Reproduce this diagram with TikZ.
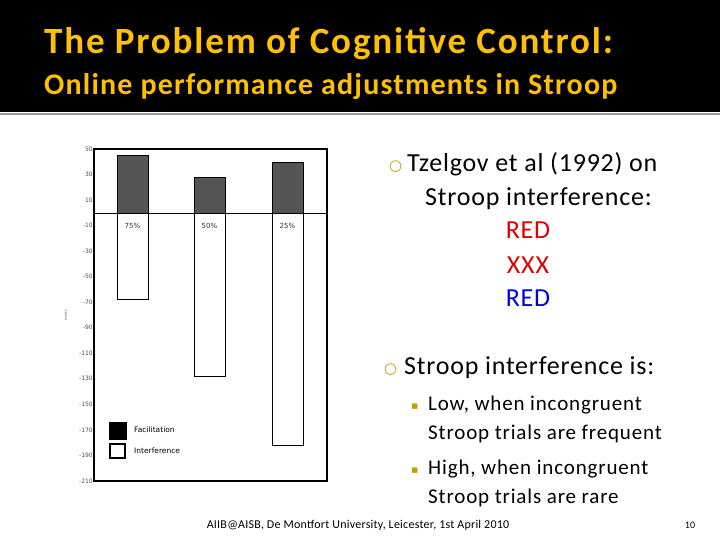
\documentclass[tikz,border=0pt]{standalone}
\usepackage{fontspec}
\setmainfont{Carlito}
\newfontfamily\dv{DejaVu Sans}
\definecolor{gold}{HTML}{FFC000}
\definecolor{barg}{HTML}{555555}
\definecolor{tred}{HTML}{E00000}
\definecolor{tblue}{HTML}{0000E0}
\begin{document}
\begin{tikzpicture}[x=1pt,y=-1pt,
  tick/.style={anchor=east,font=\fontsize{6}{7}\selectfont\dv,text=black!70,inner sep=0},
  body/.style={anchor=base west,inner sep=0,font=\fontsize{26}{30}\selectfont\addfontfeatures{LetterSpace=3}},
  sub/.style={anchor=base west,inner sep=0,font=\fontsize{21}{24}\selectfont\addfontfeatures{LetterSpace=4}}]
\useasboundingbox (0,0) rectangle (720,540);
\fill[white] (0,0) rectangle (720,540);
\fill[black] (0,0) rectangle (720,112);
\draw[black!40,line width=1.5] (0,114) -- (720,114);
\node[anchor=base west,inner sep=0,text=gold,font=\fontsize{37}{44}\selectfont\bfseries\addfontfeatures{LetterSpace=5}] (t1) at (44,54) {The Problem of Cognitive Control:};
\node[anchor=base west,inner sep=0,text=gold,font=\fontsize{30}{36}\selectfont\bfseries\addfontfeatures{LetterSpace=4}] (t2) at (44,95) {Online performance adjustments in Stroop};
% chart
\def\z{212.8}\def\k{1.277}
\draw[line width=1.2] (94,149) rectangle (327,481);
\foreach \v in {50,30,10,-10,-30,-50,-70,-90,-110,-130,-150,-170,-190,-210}
  \node[tick] at (93,{\z-\v*\k}) {\v};
\node[rotate=90,font=\fontsize{4}{5}\selectfont\dv,text=black!60] (ms) at (66,315) {msec};
\foreach \a/\f/\i/\l in {117/45/-68/75\%,194/28/-128/50\%,272/40/-182/25\%}{
  \draw[fill=barg] (\a,{\z-\f*\k}) rectangle (\a+31,\z);
  \draw[fill=white] (\a,\z) rectangle (\a+31,{\z-\i*\k});
  \node[font=\fontsize{7}{8}\selectfont\dv,text=black!80] at (\a+15.5,226) {\l};
}
\draw (94,\z) -- (327,\z);
\draw[fill=black] (109,422) rectangle (126,439);
\draw[line width=1.5,fill=white] (110,444) rectangle (125,458);
\node[anchor=west,font=\fontsize{7.5}{8}\selectfont\dv,inner sep=0] (lf) at (134,430) {Facilitation};
\node[anchor=west,font=\fontsize{7.5}{8}\selectfont\dv,inner sep=0] (li) at (134,451) {Interference};
% text
\node[body,font=\fontsize{15}{16}\selectfont\dv,text=gold!80!black] (b1) at (389,171) {○};
\node[body] (x1) at (407,172) {Tzelgov et al (1992) on};
\node[body] (x2) at (425,206) {Stroop interference:};
\node[body,anchor=base,text=tred] (r1) at (528,239) {RED};
\node[body,anchor=base,text=tred] (r2) at (528,273) {XXX};
\node[body,anchor=base,text=tblue] (r3) at (528,306) {RED};
\node[body,font=\fontsize{15}{16}\selectfont\dv,text=gold!80!black] (b2) at (384,373) {○};
\node[body] (x3) at (404,374) {Stroop interference is:};
\node[sub,font=\fontsize{11}{12}\selectfont\dv,text=gold!80!black] (s1) at (411,409) {▪};
\node[sub] (y1) at (428,410) {Low, when incongruent};
\node[sub] (y2) at (428,439) {Stroop trials are frequent};
\node[sub,font=\fontsize{11}{12}\selectfont\dv,text=gold!80!black] (s2) at (411,473) {▪};
\node[sub] (y3) at (428,474) {High, when incongruent};
\node[sub] (y4) at (428,503) {Stroop trials are rare};
\node[anchor=base,inner sep=0,font=\fontsize{12}{14}\selectfont\addfontfeatures{LetterSpace=2}] (f) at (358,528) {AIIB@AISB, De Montfort University, Leicester, 1st April 2010};
\node[anchor=base,inner sep=0,font=\fontsize{10}{12}\selectfont] (p) at (690,528) {10};
\end{tikzpicture}
\end{document}
